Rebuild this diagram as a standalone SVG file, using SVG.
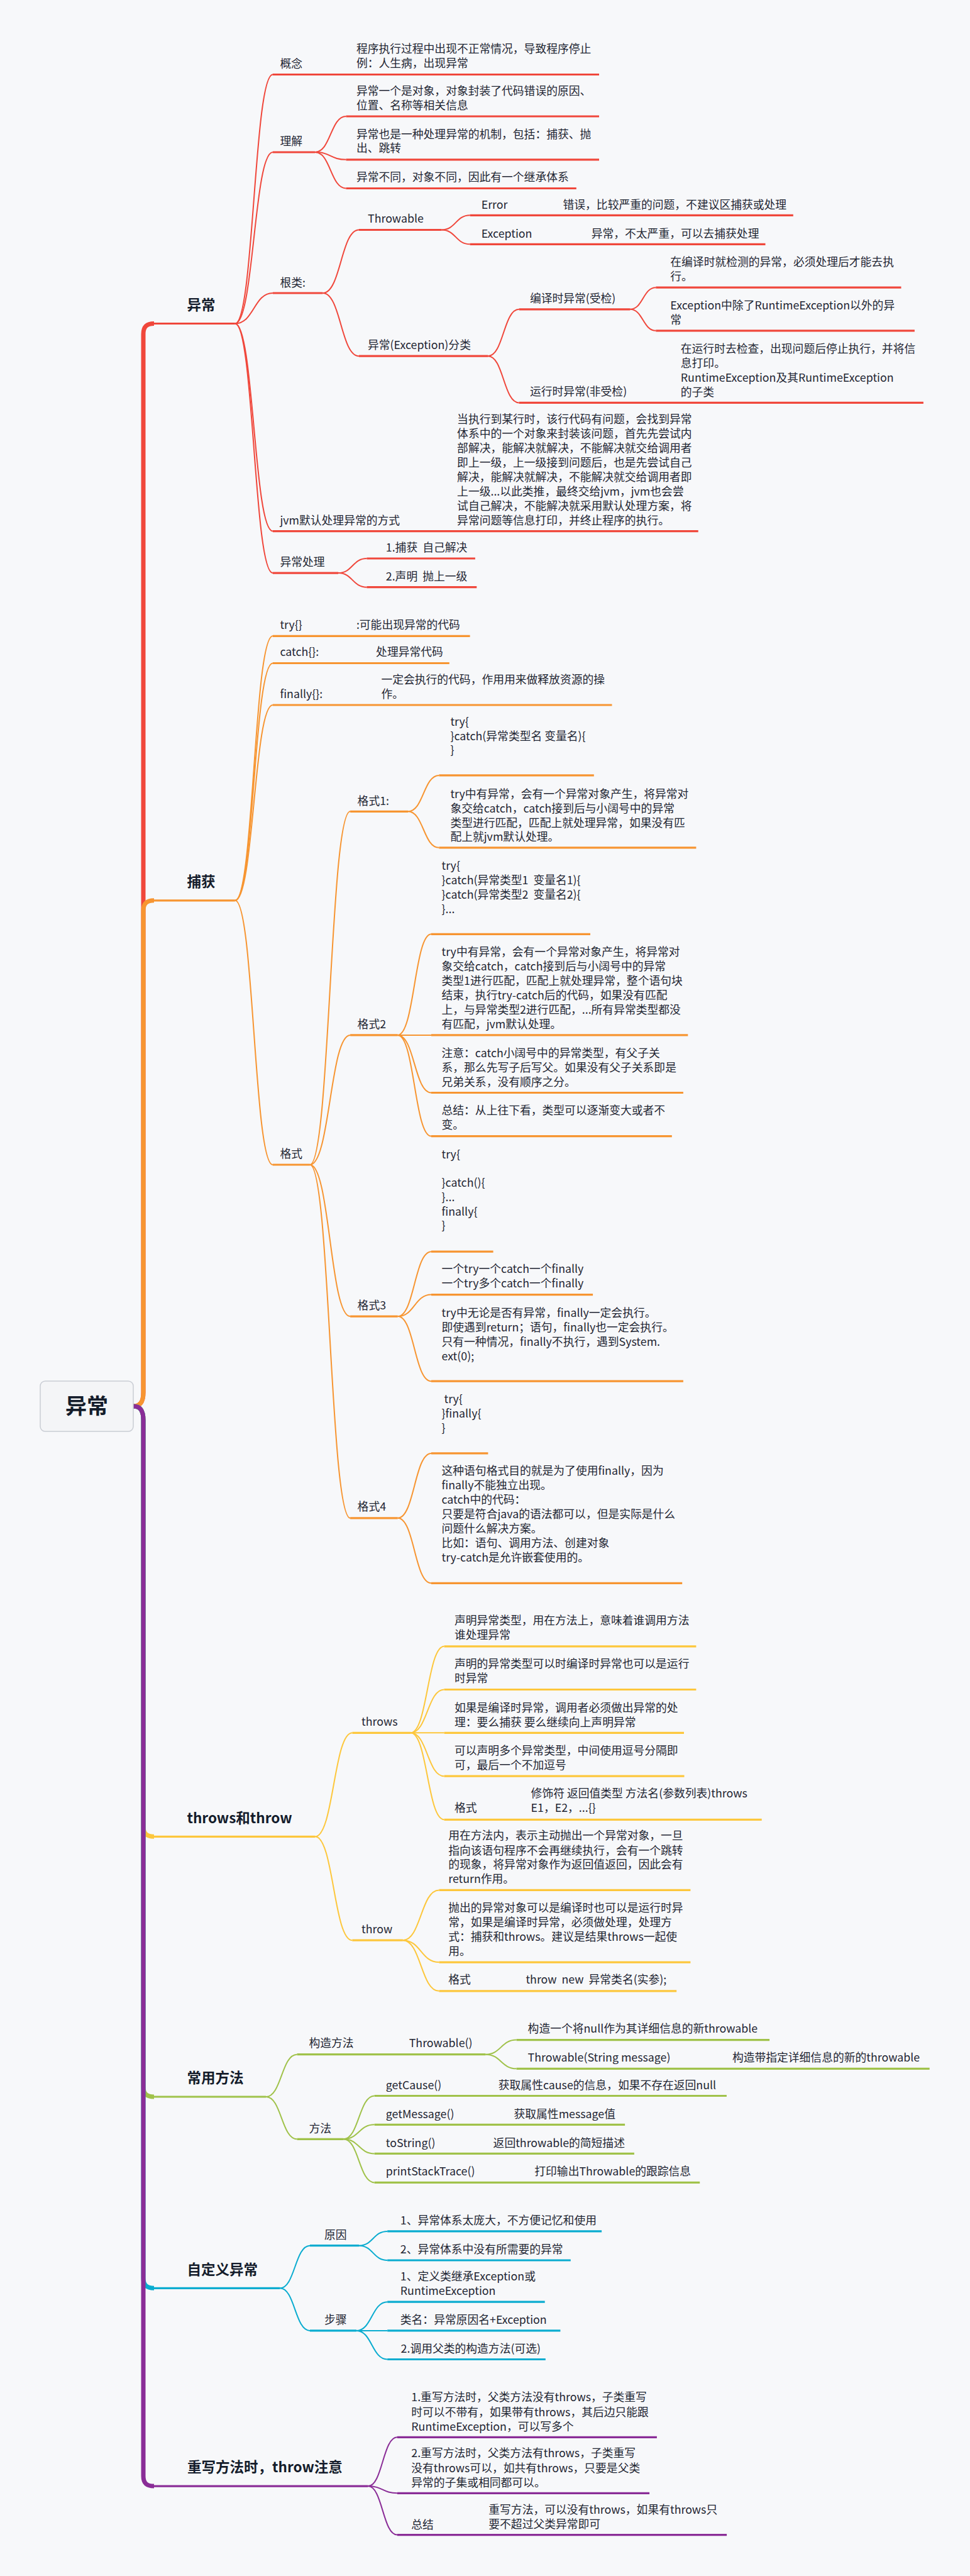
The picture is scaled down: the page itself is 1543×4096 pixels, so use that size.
<svg xmlns="http://www.w3.org/2000/svg" width="1543" height="4096" viewBox="0 0 1543 4096">
<style>
.t{font-family:"Noto Sans CJK SC","Noto Sans",sans-serif;font-size:17.8px;fill:#1f2633;white-space:pre}
.r{font-family:"Noto Sans CJK SC","Noto Sans",sans-serif;font-size:22.5px;font-weight:700;fill:#141c2b;white-space:pre}
.c{font-family:"Noto Sans CJK SC","Noto Sans",sans-serif;font-size:34px;font-weight:700;fill:#141c2b}
.u{fill:none;stroke-width:3.2}
.k{fill:none;stroke-width:2}
.tk{fill:none;stroke-width:7}
.red{stroke:#F0473B}.org{stroke:#F79531}.yel{stroke:#FDC73C}.grn{stroke:#A0C24A}.cyn{stroke:#0AACD0}.pur{stroke:#8A2D97}
</style>
<rect width="1543" height="4096" fill="#F7F8FA"/>

<g id="connectors">
<!-- trunk -->
<path class="tk red" d="M212 2236 C224 2236 228 2228 228 2214 L228 531 C228 520 233 514.5 245 514.5"/>
<path class="tk org" d="M212 2236 C224 2236 228 2228 228 2214 L228 1448 C228 1437 233 1431.8 245 1431.8"/>
<path class="tk yel" d="M212 2236 C224 2236 228 2244 228 2258 L228 2904 C228 2915 233 2920.3 245 2920.3"/>
<path class="tk grn" d="M212 2236 C224 2236 228 2244 228 2258 L228 3318 C228 3329 233 3334 245 3334"/>
<path class="tk cyn" d="M212 2236 C224 2236 228 2244 228 2258 L228 3622 C228 3633 233 3638.3 245 3638.3"/>
<path class="tk pur" d="M212 2236 C224 2236 228 2244 228 2258 L228 3937 C228 3948 233 3953.1 245 3953.1"/>
<!-- red -->
<g class="k red">
<path d="M373.9 514.5 C403.9 514.5 403.9 118.5 433.9 118.5"/>
<path d="M373.9 514.5 C403.9 514.5 403.9 242 433.9 242"/>
<path d="M373.9 514.5 C403.9 514.5 403.9 466 433.9 466"/>
<path d="M373.9 514.5 C403.9 514.5 403.9 844.6 433.9 844.6"/>
<path d="M373.9 514.5 C403.9 514.5 403.9 911.1 433.9 911.1"/>
<path d="M501.2 242 C525.9 242 525.9 185 550.5 185"/>
<path d="M501.2 242 C525.9 242 525.9 253.8 550.5 253.8"/>
<path d="M501.2 242 C525.9 242 525.9 299.5 550.5 299.5"/>
<path d="M513.5 466 C542.3 466 542.3 365.5 571 365.5"/>
<path d="M513.5 466 C542.3 466 542.3 566.2 571 566.2"/>
<path d="M702.5 365.5 C725 365.5 725 342.3 747.6 342.3"/>
<path d="M702.5 365.5 C725 365.5 725 388.3 747.6 388.3"/>
<path d="M776.4 566.2 C801 566.2 801 491.8 825.7 491.8"/>
<path d="M776.4 566.2 C801 566.2 801 640.4 825.7 640.4"/>
<path d="M1002.3 491.8 C1022.8 491.8 1022.8 457.2 1043.3 457.2"/>
<path d="M1002.3 491.8 C1022.8 491.8 1022.8 525.8 1043.3 525.8"/>
<path d="M538.2 911.1 C560.8 911.1 560.8 888 583.4 888"/>
<path d="M538.2 911.1 C560.8 911.1 560.8 933.7 583.4 933.7"/>
</g>
<!-- orange -->
<g class="k org">
<path d="M373.9 1431.8 C403.9 1431.8 403.9 1011.3 433.9 1011.3"/>
<path d="M373.9 1431.8 C403.9 1431.8 403.9 1054.5 433.9 1054.5"/>
<path d="M373.9 1431.8 C403.9 1431.8 403.9 1121 433.9 1121"/>
<path d="M373.9 1431.8 C403.9 1431.8 403.9 1852 433.9 1852"/>
<path d="M493 1852 C525 1852 525 1290.3 557.1 1290.3"/>
<path d="M493 1852 C525 1852 525 1645.9 557.1 1645.9"/>
<path d="M493 1852 C525 1852 525 2093.1 557.1 2093.1"/>
<path d="M493 1852 C525 1852 525 2413.8 557.1 2413.8"/>
<path d="M649.1 1290.3 C673.7 1290.3 673.7 1232.9 698.4 1232.9"/>
<path d="M649.1 1290.3 C673.7 1290.3 673.7 1347.8 698.4 1347.8"/>
<path d="M632.7 1645.9 C659.3 1645.9 659.3 1485.3 686 1485.3"/>
<path d="M632.7 1645.9 L686 1645.9"/>
<path d="M632.7 1645.9 C659.3 1645.9 659.3 1737.5 686 1737.5"/>
<path d="M632.7 1645.9 C659.3 1645.9 659.3 1806.6 686 1806.6"/>
<path d="M632.7 2093.1 C659.3 2093.1 659.3 1990.2 686 1990.2"/>
<path d="M632.7 2093.1 C659.3 2093.1 659.3 2058.6 686 2058.6"/>
<path d="M632.7 2093.1 C659.3 2093.1 659.3 2196.2 686 2196.2"/>
<path d="M632.7 2413.8 C659.3 2413.8 659.3 2310.9 686 2310.9"/>
<path d="M632.7 2413.8 C659.3 2413.8 659.3 2517.3 686 2517.3"/>
</g>
<!-- yellow -->
<g class="k yel">
<path d="M501.2 2920.3 C530.8 2920.3 530.8 2755.3 560.4 2755.3"/>
<path d="M501.2 2920.3 C530.8 2920.3 530.8 3085.2 560.4 3085.2"/>
<path d="M653.2 2755.3 C679.9 2755.3 679.9 2617.8 706.6 2617.8"/>
<path d="M653.2 2755.3 C679.9 2755.3 679.9 2686.5 706.6 2686.5"/>
<path d="M653.2 2755.3 L706.6 2755.3"/>
<path d="M653.2 2755.3 C679.9 2755.3 679.9 2824.2 706.6 2824.2"/>
<path d="M653.2 2755.3 C679.9 2755.3 679.9 2893.3 706.6 2893.3"/>
<path d="M640.9 3085.2 C669.6 3085.2 669.6 3005.4 698.4 3005.4"/>
<path d="M640.9 3085.2 C669.6 3085.2 669.6 3120.1 698.4 3120.1"/>
<path d="M640.9 3085.2 C669.6 3085.2 669.6 3165.8 698.4 3165.8"/>
</g>
<!-- green -->
<g class="k grn">
<path d="M423.2 3334 C447.8 3334 447.8 3266.7 472.5 3266.7"/>
<path d="M423.2 3334 C447.8 3334 447.8 3401.3 472.5 3401.3"/>
<path d="M772.3 3266.7 C797 3266.7 797 3243.6 821.6 3243.6"/>
<path d="M772.3 3266.7 C797 3266.7 797 3289.3 821.6 3289.3"/>
<path d="M546.4 3401.3 C571 3401.3 571 3332.5 595.7 3332.5"/>
<path d="M546.4 3401.3 C571 3401.3 571 3378.3 595.7 3378.3"/>
<path d="M546.4 3401.3 C571 3401.3 571 3424.4 595.7 3424.4"/>
<path d="M546.4 3401.3 C571 3401.3 571 3470.4 595.7 3470.4"/>
</g>
<!-- cyan -->
<g class="k cyn">
<path d="M445.4 3638.3 C469.2 3638.3 469.2 3570.7 493 3570.7"/>
<path d="M445.4 3638.3 C469.2 3638.3 469.2 3705.9 493 3705.9"/>
<path d="M571 3570.7 C593.6 3570.7 593.6 3547.9 616.2 3547.9"/>
<path d="M571 3570.7 C593.6 3570.7 593.6 3594 616.2 3594"/>
<path d="M567 3705.9 C591.6 3705.9 591.6 3660.2 616.2 3660.2"/>
<path d="M567 3705.9 L616.2 3705.9"/>
<path d="M567 3705.9 C591.6 3705.9 591.6 3751.5 616.2 3751.5"/>
</g>
<!-- purple -->
<g class="k pur">
<path d="M585.4 3953.1 C608.7 3953.1 608.7 3875.3 632 3875.3"/>
<path d="M585.4 3953.1 C608.7 3953.1 608.7 3964.3 632 3964.3"/>
<path d="M585.4 3953.1 C608.7 3953.1 608.7 4030.6 632 4030.6"/>
</g>
</g>

<g id="center">
<rect x="64" y="2196" width="148" height="80" rx="8" fill="#F4F5F7" stroke="#C9CDD4" stroke-width="1.5"/>
<text class="c" x="138" y="2248" text-anchor="middle">异常</text>
</g>

<!-- RED -->
<g id="n-yichang"><text class="r" x="297.5" y="492.6">异常</text><path class="u red" d="M243 514.5 H373.9"/></g>
<g id="n-gainian"><text class="t" x="445.4" y="108">概念</text><path class="u red" d="M433.9 118.5 H555"/></g>
<g id="n-gainian-1"><text class="t" x="566.9" y="84">程序执行过程中出现不正常情况，导致程序停止</text><text class="t" x="566.9" y="107">例：人生病，出现异常</text><path class="u red" d="M555 118.5 H953"/></g>
<g id="n-lijie"><text class="t" x="445.4" y="231">理解</text><path class="u red" d="M433.9 242 H501.2"/></g>
<g id="n-lijie-1"><text class="t" x="566.9" y="150.8">异常一个是对象，对象封装了代码错误的原因、</text><text class="t" x="566.9" y="173.8">位置、名称等相关信息</text><path class="u red" d="M550.5 185 H953"/></g>
<g id="n-lijie-2"><text class="t" x="566.9" y="219.9">异常也是一种处理异常的机制，包括：捕获、抛</text><text class="t" x="566.9" y="242">出、跳转</text><path class="u red" d="M550.5 253.8 H953"/></g>
<g id="n-lijie-3"><text class="t" x="566.9" y="287.9">异常不同，对象不同，因此有一个继承体系</text><path class="u red" d="M550.5 299.5 H916.8"/></g>
<g id="n-genlei"><text class="t" x="445.4" y="455.5">根类:</text><path class="u red" d="M433.9 466 H513.5"/></g>
<g id="n-throwable"><text class="t" x="585" y="354.1">Throwable</text><path class="u red" d="M571 365.5 H702.5"/></g>
<g id="n-error"><text class="t" x="765.7" y="331.8">Error</text><text class="t" x="895.5" y="331.8">错误，比较严重的问题，不建议区捕获或处理</text><path class="u red" d="M747.6 342.3 H1261.8"/></g>
<g id="n-exception"><text class="t" x="765.7" y="377.6">Exception</text><text class="t" x="940.7" y="377.6">异常，不太严重，可以去捕获处理</text><path class="u red" d="M747.6 388.3 H1217.5"/></g>
<g id="n-fenlei"><text class="t" x="585" y="555.3">异常(Exception)分类</text><path class="u red" d="M571 566.2 H776.4"/></g>
<g id="n-bianyi"><text class="t" x="842.9" y="480.7">编译时异常(受检)</text><path class="u red" d="M825.7 491.8 H1002.3"/></g>
<g id="n-bianyi-1"><text class="t" x="1066.3" y="422.6">在编译时就检测的异常，必须处理后才能去执</text><text class="t" x="1066.3" y="445.6">行。</text><path class="u red" d="M1043.3 457.2 H1433.5"/></g>
<g id="n-bianyi-2"><text class="t" x="1066.3" y="492.4">Exception中除了RuntimeException以外的异</text><text class="t" x="1066.3" y="515.4">常</text><path class="u red" d="M1043.3 525.8 H1454.9"/></g>
<g id="n-yunxing"><text class="t" x="842.9" y="628.8">运行时异常(非受检)</text><path class="u red" d="M825.7 640.4 H1070"/></g>
<g id="n-yunxing-1"><text class="t" x="1082.8" y="560.8">在运行时去检查，出现问题后停止执行，并将信</text><text class="t" x="1082.8" y="583.8">息打印。</text><text class="t" x="1082.8" y="606.8">RuntimeException及其RuntimeException</text><text class="t" x="1082.8" y="629.8">的子类</text><path class="u red" d="M1070 640.4 H1468.9"/></g>
<g id="n-jvm"><text class="t" x="445.4" y="833.7">jvm默认处理异常的方式</text><path class="u red" d="M433.9 844.6 H715"/></g>
<g id="n-jvm-1"><text class="t" x="727.1" y="672.7">当执行到某行时，该行代码有问题，会找到异常</text><text class="t" x="727.1" y="695.7">体系中的一个对象来封装该问题，首先先尝试内</text><text class="t" x="727.1" y="718.7">部解决，能解决就解决，不能解决就交给调用者</text><text class="t" x="727.1" y="741.7">即上一级，上一级接到问题后，也是先尝试自己</text><text class="t" x="727.1" y="764.7">解决，能解决就解决，不能解决就交给调用者即</text><text class="t" x="727.1" y="787.7">上一级...以此类推，最终交给jvm，jvm也会尝</text><text class="t" x="727.1" y="810.7">试自己解决，不能解决就采用默认处理方案，将</text><text class="t" x="727.1" y="833.7">异常问题等信息打印，并终止程序的执行。</text><path class="u red" d="M715 844.6 H1110.7"/></g>
<g id="n-chuli"><text class="t" x="445.4" y="899.5">异常处理</text><path class="u red" d="M433.9 911.1 H538.2"/></g>
<g id="n-chuli-1"><text class="t" x="613.8" y="876.5">1.捕获  自己解决</text><path class="u red" d="M583.4 888 H755.9"/></g>
<g id="n-chuli-2"><text class="t" x="613.8" y="922.5">2.声明  抛上一级</text><path class="u red" d="M583.4 933.7 H758.3"/></g>

<!-- ORANGE -->
<g id="n-buhuo"><text class="r" x="297.5" y="1410">捕获</text><path class="u org" d="M243 1431.8 H373.9"/></g>
<g id="n-try"><text class="t" x="445.4" y="1000.4">try{}</text><text class="t" x="566.9" y="1000.4">:可能出现异常的代码</text><path class="u org" d="M433.9 1011.3 H747.6"/></g>
<g id="n-catch"><text class="t" x="445.4" y="1043.4">catch{}:</text><text class="t" x="598.1" y="1043.4">处理异常代码</text><path class="u org" d="M433.9 1054.5 H714.8"/></g>
<g id="n-finally"><text class="t" x="445.4" y="1109.9">finally{}:</text><text class="t" x="606.4" y="1087.3">一定会执行的代码，作用用来做释放资源的操</text><text class="t" x="606.4" y="1110.3">作。</text><path class="u org" d="M433.9 1121 H973.5"/></g>
<g id="n-geshi"><text class="t" x="445.4" y="1841.1">格式</text><path class="u org" d="M433.9 1852 H493"/></g>
<g id="n-geshi1"><text class="t" x="568.6" y="1279.9">格式1:</text><path class="u org" d="M557.1 1290.3 H649.1"/></g>
<g id="n-geshi1-1"><text class="t" x="716.4" y="1154.4">try{</text><text class="t" x="716.4" y="1176.8">}catch(异常类型名 变量名){</text><text class="t" x="716.4" y="1199.1">}</text><path class="u org" d="M698.4 1232.9 H944.8"/></g>
<g id="n-geshi1-2"><text class="t" x="716.4" y="1269">try中有异常，会有一个异常对象产生，将异常对</text><text class="t" x="716.4" y="1292">象交给catch，catch接到后与小阔号中的异常</text><text class="t" x="716.4" y="1315">类型进行匹配，匹配上就处理异常，如果没有匹</text><text class="t" x="716.4" y="1337">配上就jvm默认处理。</text><path class="u org" d="M698.4 1347.8 H1107.4"/></g>
<g id="n-geshi2"><text class="t" x="568.6" y="1635">格式2</text><path class="u org" d="M557.1 1645.9 H632.7"/></g>
<g id="n-geshi2-1"><text class="t" x="702.5" y="1382.7">try{</text><text class="t" x="702.5" y="1405.7">}catch(异常类型1  变量名1){</text><text class="t" x="702.5" y="1428.7">}catch(异常类型2  变量名2){</text><text class="t" x="702.5" y="1451.7">}...</text><path class="u org" d="M686 1485.3 H939"/></g>
<g id="n-geshi2-2"><text class="t" x="702.5" y="1520">try中有异常，会有一个异常对象产生，将异常对</text><text class="t" x="702.5" y="1543">象交给catch，catch接到后与小阔号中的异常</text><text class="t" x="702.5" y="1566">类型1进行匹配，匹配上就处理异常，整个语句块</text><text class="t" x="702.5" y="1589">结束，执行try-catch后的代码，如果没有匹配</text><text class="t" x="702.5" y="1612">上，与异常类型2进行匹配，...所有异常类型都没</text><text class="t" x="702.5" y="1635">有匹配，jvm默认处理。</text><path class="u org" d="M686 1645.9 H1094.3"/></g>
<g id="n-geshi2-3"><text class="t" x="702.5" y="1681.1">注意：catch小阔号中的异常类型，有父子关</text><text class="t" x="702.5" y="1704">系，那么先写子后写父。如果没有父子关系即是</text><text class="t" x="702.5" y="1727">兄弟关系，没有顺序之分。</text><path class="u org" d="M686 1737.5 H1086.9"/></g>
<g id="n-geshi2-4"><text class="t" x="702.5" y="1772">总结：从上往下看，类型可以逐渐变大或者不</text><text class="t" x="702.5" y="1795">变。</text><path class="u org" d="M686 1806.6 H1068.8"/></g>
<g id="n-geshi3"><text class="t" x="568.6" y="2082.2">格式3</text><path class="u org" d="M557.1 2093.1 H632.7"/></g>
<g id="n-geshi3-1"><text class="t" x="702.5" y="1841.5">try{</text><text class="t" x="702.5" y="1887.2">}catch(){</text><text class="t" x="702.5" y="1910.2">}...</text><text class="t" x="702.5" y="1933.2">finally{</text><text class="t" x="702.5" y="1955.2">}</text><path class="u org" d="M686 1990.2 H784.6"/></g>
<g id="n-geshi3-2"><text class="t" x="702.5" y="2024.3">一个try一个catch一个finally</text><text class="t" x="702.5" y="2047.1">一个try多个catch一个finally</text><path class="u org" d="M686 2058.6 H943.1"/></g>
<g id="n-geshi3-3"><text class="t" x="702.5" y="2094.2">try中无论是否有异常，finally一定会执行。</text><text class="t" x="702.5" y="2117.3">即使遇到return；语句，finally也一定会执行。</text><text class="t" x="702.5" y="2140.3">只有一种情况，finally不执行，遇到System.</text><text class="t" x="702.5" y="2162.9">ext(0);</text><path class="u org" d="M686 2196.2 H1086.9"/></g>
<g id="n-geshi4"><text class="t" x="568.6" y="2402.2">格式4</text><path class="u org" d="M557.1 2413.8 H632.7"/></g>
<g id="n-geshi4-1"><text class="t" x="702.5" y="2231.4"> try{</text><text class="t" x="702.5" y="2254.4">}finally{</text><text class="t" x="702.5" y="2277">}</text><path class="u org" d="M686 2310.9 H776.4"/></g>
<g id="n-geshi4-2"><text class="t" x="702.5" y="2345">这种语句格式目的就是为了使用finally，因为</text><text class="t" x="702.5" y="2368">finally不能独立出现。</text><text class="t" x="702.5" y="2391">catch中的代码：</text><text class="t" x="702.5" y="2414">只要是符合java的语法都可以，但是实际是什么</text><text class="t" x="702.5" y="2437">问题什么解决方案。</text><text class="t" x="702.5" y="2460">比如：语句、调用方法、创建对象</text><text class="t" x="702.5" y="2483">try-catch是允许嵌套使用的。</text><path class="u org" d="M686 2517.3 H1085.2"/></g>

<!-- YELLOW -->
<g id="n-throwsroot"><text class="r" x="297.5" y="2898.6">throws和throw</text><path class="u yel" d="M243 2920.3 H501.2"/></g>
<g id="n-throws"><text class="t" x="575.1" y="2744.2">throws</text><path class="u yel" d="M560.4 2755.3 H653.2"/></g>
<g id="n-throws-1"><text class="t" x="723" y="2583.2">声明异常类型，用在方法上，意味着谁调用方法</text><text class="t" x="723" y="2606.2">谁处理异常</text><path class="u yel" d="M706.6 2617.8 H1107.4"/></g>
<g id="n-throws-2"><text class="t" x="723" y="2652.3">声明的异常类型可以时编译时异常也可以是运行</text><text class="t" x="723" y="2675.4">时异常</text><path class="u yel" d="M706.6 2686.5 H1107.4"/></g>
<g id="n-throws-3"><text class="t" x="723" y="2722.3">如果是编译时异常，调用者必须做出异常的处</text><text class="t" x="723" y="2745.3">理：要么捕获 要么继续向上声明异常</text><path class="u yel" d="M706.6 2755.3 H1088"/></g>
<g id="n-throws-4"><text class="t" x="723" y="2790.3">可以声明多个异常类型，中间使用逗号分隔即</text><text class="t" x="723" y="2813.3">可，最后一个不加逗号</text><path class="u yel" d="M706.6 2824.2 H1088.5"/></g>
<g id="n-throws-5"><text class="t" x="723" y="2881.3">格式</text><text class="t" x="844.6" y="2858.3">修饰符 返回值类型 方法名(参数列表)throws</text><text class="t" x="844.6" y="2881.3">E1，E2，...{}</text><path class="u yel" d="M706.6 2893.3 H1211.7"/></g>
<g id="n-throw"><text class="t" x="575.1" y="3074.1">throw</text><path class="u yel" d="M560.4 3085.2 H640.9"/></g>
<g id="n-throw-1"><text class="t" x="713.2" y="2925.2">用在方法内，表示主动抛出一个异常对象，一旦</text><text class="t" x="713.2" y="2948.7">指向该语句程序不会再继续执行，会有一个跳转</text><text class="t" x="713.2" y="2971.3">的现象，将异常对象作为返回值返回，因此会有</text><text class="t" x="713.2" y="2994.3">return作用。</text><path class="u yel" d="M698.4 3005.4 H1098.4"/></g>
<g id="n-throw-2"><text class="t" x="713.2" y="3040.4">抛出的异常对象可以是编译时也可以是运行时异</text><text class="t" x="713.2" y="3063.2">常，如果是编译时异常，必须做处理，处理方</text><text class="t" x="713.2" y="3086.2">式：捕获和throws。建议是结果throws一起使</text><text class="t" x="713.2" y="3109.2">用。</text><path class="u yel" d="M698.4 3120.1 H1098.4"/></g>
<g id="n-throw-3"><text class="t" x="713.2" y="3154.2">格式</text><text class="t" x="836.4" y="3154.2">throw  new  异常类名(实参);</text><path class="u yel" d="M698.4 3165.8 H1076.2"/></g>

<!-- GREEN -->
<g id="n-changyong"><text class="r" x="297.5" y="3312">常用方法</text><path class="u grn" d="M243 3334 H423.2"/></g>
<g id="n-gouzao"><text class="t" x="491.4" y="3255.1">构造方法</text><path class="u grn" d="M472.5 3266.7 H635"/></g>
<g id="n-throwable2"><text class="t" x="650.7" y="3255.1">Throwable()</text><path class="u grn" d="M635 3266.7 H772.3"/></g>
<g id="n-gz-1"><text class="t" x="839.6" y="3232.1">构造一个将null作为其详细信息的新throwable</text><path class="u grn" d="M821.6 3243.6 H1224.1"/></g>
<g id="n-gz-2"><text class="t" x="839.6" y="3278.2">Throwable(String message)</text><text class="t" x="1164.9" y="3278.2">构造带指定详细信息的新的throwable</text><path class="u grn" d="M821.6 3289.3 H1478.7"/></g>
<g id="n-fangfa"><text class="t" x="491.4" y="3390.9">方法</text><path class="u grn" d="M472.5 3401.3 H546.4"/></g>
<g id="n-getcause"><text class="t" x="613.8" y="3322">getCause()</text><text class="t" x="792.8" y="3322">获取属性cause的信息，如果不存在返回null</text><path class="u grn" d="M595.7 3332.5 H1155.9"/></g>
<g id="n-getmessage"><text class="t" x="613.8" y="3368.1">getMessage()</text><text class="t" x="817.5" y="3368.1">获取属性message值</text><path class="u grn" d="M595.7 3378.3 H994.1"/></g>
<g id="n-tostring"><text class="t" x="613.8" y="3413.9">toString()</text><text class="t" x="784.6" y="3413.9">返回throwable的简短描述</text><path class="u grn" d="M595.7 3424.4 H1008.9"/></g>
<g id="n-printst"><text class="t" x="613.8" y="3458.9">printStackTrace()</text><text class="t" x="850.3" y="3458.9">打印输出Throwable的跟踪信息</text><path class="u grn" d="M595.7 3470.4 H1113.2"/></g>

<!-- CYAN -->
<g id="n-zidingyi"><text class="r" x="297.5" y="3616.7">自定义异常</text><path class="u cyn" d="M243 3638.3 H445.4"/></g>
<g id="n-yuanyin"><text class="t" x="516" y="3559.8">原因</text><path class="u cyn" d="M493 3570.7 H571"/></g>
<g id="n-yy-1"><text class="t" x="636.8" y="3536.8">1、异常体系太庞大，不方便记忆和使用</text><path class="u cyn" d="M616.2 3547.9 H957.1"/></g>
<g id="n-yy-2"><text class="t" x="636.8" y="3582.9">2、异常体系中没有所需要的异常</text><path class="u cyn" d="M616.2 3594 H907.8"/></g>
<g id="n-buzhou"><text class="t" x="516" y="3694.7">步骤</text><path class="u cyn" d="M493 3705.9 H567"/></g>
<g id="n-bz-1"><text class="t" x="636.8" y="3626.1">1、定义类继承Exception或</text><text class="t" x="636.8" y="3648.7">RuntimeException</text><path class="u cyn" d="M616.2 3660.2 H866.7"/></g>
<g id="n-bz-2"><text class="t" x="636.8" y="3695.4">类名：异常原因名+Exception</text><path class="u cyn" d="M616.2 3705.9 H891.4"/></g>
<g id="n-bz-3"><text class="t" x="637.6" y="3741.2">2.调用父类的构造方法(可选)</text><path class="u cyn" d="M616.2 3751.5 H867.8"/></g>

<!-- PURPLE -->
<g id="n-chongxie"><text class="r" x="298.1" y="3931.3">重写方法时，throw注意</text><path class="u pur" d="M243 3953.1 H585.4"/></g>
<g id="n-cx-1"><text class="t" x="654.3" y="3818.4">1.重写方法时，父类方法没有throws，子类重写</text><text class="t" x="654.3" y="3841.6">时可以不带有，如果带有throws，其后边只能跟</text><text class="t" x="654.3" y="3864.8">RuntimeException，可以写多个</text><path class="u pur" d="M632 3875.3 H1044.9"/></g>
<g id="n-cx-2"><text class="t" x="654.3" y="3907.4">2.重写方法时，父类方法有throws，子类重写</text><text class="t" x="654.3" y="3930.6">没有throws可以，如共有throws，只要是父类</text><text class="t" x="654.3" y="3953.8">异常的子集或相同都可以。</text><path class="u pur" d="M632 3964.3 H1033.1"/></g>
<g id="n-cx-3"><text class="t" x="654.3" y="4020.8">总结</text><text class="t" x="777.3" y="3997.1">重写方法，可以没有throws，如果有throws只</text><text class="t" x="777.3" y="4020.3">要不超过父类异常即可</text><path class="u pur" d="M632 4030.6 H1156.1"/></g>
</svg>
